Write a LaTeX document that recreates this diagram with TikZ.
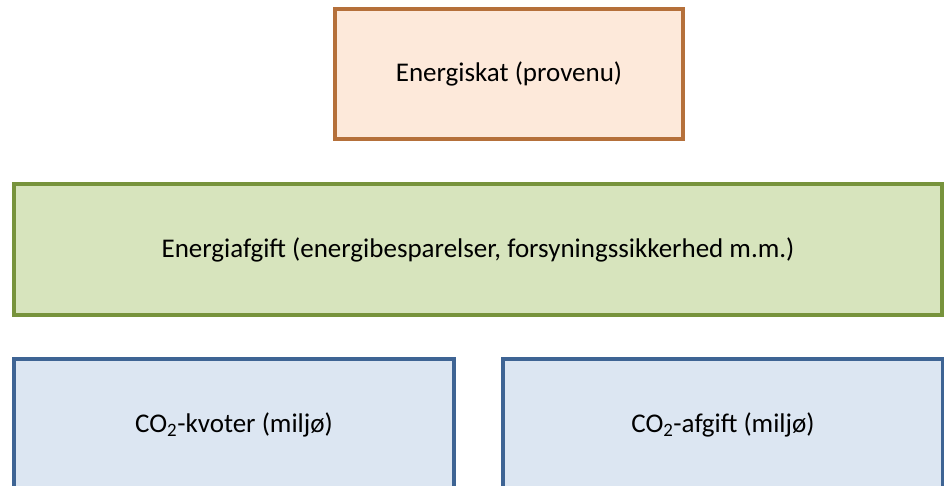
\documentclass[tikz,border=0pt]{standalone}
\usepackage{fontspec}
\setmainfont{Carlito}
\usepackage{tikz}
\usetikzlibrary{positioning}

\definecolor{skatfill}{HTML}{FDE9DA}
\definecolor{skatline}{HTML}{B5703A}
\definecolor{afgiftfill}{HTML}{D7E4BD}
\definecolor{afgiftline}{HTML}{77933C}
\definecolor{kvotefill}{HTML}{DCE6F2}
\definecolor{kvoteline}{HTML}{3E6494}

\begin{document}
\begin{tikzpicture}[x=1pt,y=-1pt,
    boks/.style={draw,line width=3.2pt,font=\fontsize{27}{32}\selectfont,inner sep=0pt},
    skatboks/.style={boks,draw=skatline,fill=skatfill,minimum width=348pt,minimum height=130pt},
    afgiftboks/.style={boks,draw=afgiftline,fill=afgiftfill,minimum width=928pt,minimum height=131pt},
    kvoteboks/.style={boks,draw=kvoteline,fill=kvotefill,minimum width=440pt,minimum height=132pt}]
  \useasboundingbox (0,0) rectangle (944,485);
  \clip (0,0) rectangle (944,485);

   \draw (509,74) node[skatboks] (skat) {Energiskat (provenu)};
   \draw (478,249.5) node[afgiftboks] (afgift) {Energiafgift (energibesparelser, forsyningssikkerhed m.m.)};
   \draw (234,425) node[kvoteboks] (kvoter) {CO\textsubscript{2}-kvoter (miljø)};
   \draw (723,425) node[kvoteboks] (co2afgift) {CO\textsubscript{2}-afgift (miljø)};

\end{tikzpicture}
\end{document}
